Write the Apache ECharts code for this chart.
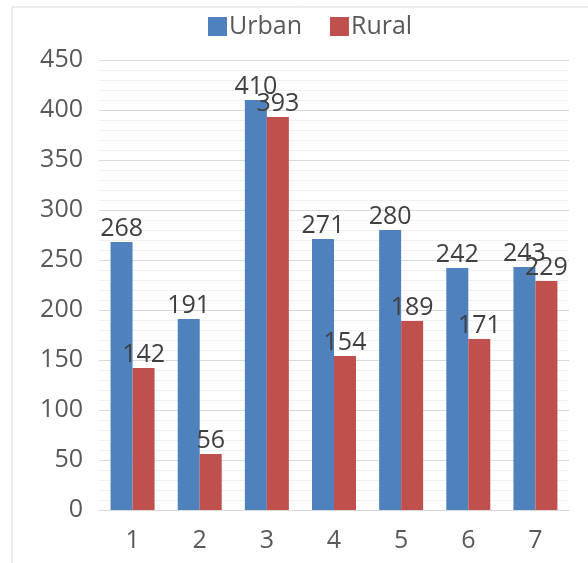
<!DOCTYPE html>
<html>
<head>
<meta charset="utf-8">
<script src="https://cdn.jsdelivr.net/npm/echarts@6/dist/echarts.min.js"></script>
<style>
  html, body { margin: 0; padding: 0; background: #fff; }
  #main { width: 588px; height: 563px; }
</style>
</head>
<body>
<div id="main"></div>
<script>
// data
var categories = ['1', '2', '3', '4', '5', '6', '7'];
var urban = [268, 191, 410, 271, 280, 242, 243];
var rural = [142, 56, 393, 154, 189, 171, 229];
var yTicks = [0, 50, 100, 150, 200, 250, 300, 350, 400, 450];

var font = '"Open Sans", "Liberation Sans", sans-serif';

var chart = echarts.init(document.getElementById('main'));

var labelStyle = {
  show: true,
  position: 'top',
  distance: 1,
  color: '#404040',
  fontSize: 25,
  fontFamily: font
};

var option = {
  animation: false,
  graphic: [{
    // outer chart frame
    type: 'rect',
    shape: { x: 12, y: 7, width: 590, height: 600 },
    style: { fill: 'none', stroke: '#d9d9d9', lineWidth: 1 },
    silent: true
  }],
  legend: {
    top: 9,
    left: 203,
    itemWidth: 19,
    itemHeight: 19,
    itemGap: 28,
    icon: 'rect',
    textStyle: { fontSize: 25, color: '#595959', fontFamily: font, padding: [0, 0, 0, -3] },
    data: ['Urban', 'Rural']
  },
  grid: { left: 99, right: 19, top: 60, bottom: 53, containLabel: false },
  xAxis: {
    type: 'category',
    data: categories,
    axisLine: { lineStyle: { color: '#d9d9d9' } },
    axisTick: { show: false },
    axisLabel: { color: '#595959', fontSize: 25, fontFamily: font, margin: 18 }
  },
  yAxis: {
    type: 'value',
    min: yTicks[0],
    max: yTicks[yTicks.length - 1],
    interval: 50,
    axisLine: { show: false },
    axisTick: { show: false },
    axisLabel: { color: '#595959', fontSize: 25, fontFamily: font, margin: 16 },
    splitLine: { lineStyle: { color: '#d9d9d9' } },
    minorTick: { show: false, splitNumber: 5 },
    minorSplitLine: { show: true, lineStyle: { color: '#f0f0f0' } }
  },
  series: [
    {
      name: 'Urban',
      type: 'bar',
      data: urban,
      barWidth: 22,
      barGap: '0%',
      itemStyle: { color: '#4F81BD' },
      label: labelStyle
    },
    {
      name: 'Rural',
      type: 'bar',
      data: rural,
      barWidth: 22,
      itemStyle: { color: '#C0504D' },
      label: labelStyle
    }
  ]
};

chart.setOption(option);
</script>
</body>
</html>
